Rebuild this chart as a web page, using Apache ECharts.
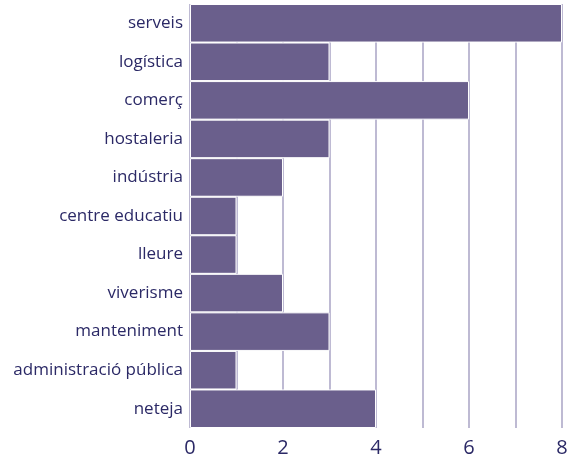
<!DOCTYPE html>
<html>
<head>
<meta charset="utf-8">
<script src="https://cdn.jsdelivr.net/npm/echarts@6/dist/echarts.min.js"></script>
<style>
  html, body { margin: 0; padding: 0; background: #fff; }
  #chart { width: 576px; height: 466px; }
</style>
</head>
<body>
<div id="chart"></div>
<script>
const categories = ['serveis', 'logística', 'comerç', 'hostaleria', 'indústria', 'centre educatiu', 'lleure', 'viverisme', 'manteniment', 'administració pública', 'neteja']
const values = [8, 3, 6, 3, 2, 1, 1, 2, 3, 1, 4]

const chart = echarts.init(document.getElementById('chart'))

const option = {
  animation: false,
  grid: { left: 190, right: 14, top: 4, bottom: 38, containLabel: false },
  xAxis: {
    type: 'value',
    min: 0,
    max: 8,
    interval: 1,
    axisLine: { show: false },
    axisTick: { show: false },
    axisLabel: {
      color: '#2b2966',
      fontSize: 20,
      fontFamily: 'Open Sans',
      margin: 10,
      formatter: v => (v % 2 === 0 ? String(v) : '')
    },
    splitLine: { show: true, lineStyle: { color: '#a9a3c4', width: 1.5 } }
  },
  yAxis: {
    type: 'category',
    data: categories,
    inverse: true,
    axisLine: { show: false },
    axisTick: { show: false },
    axisLabel: {
      color: '#2b2966',
      fontSize: 17,
      fontFamily: 'Open Sans',
      margin: 7
    }
  },
  series: [
    {
      type: 'bar',
      data: values,
      barCategoryGap: '0%',
      itemStyle: {
        color: '#6a5f8c',
        borderColor: '#ffffff',
        borderWidth: 1
      }
    }
  ]
}

chart.setOption(option)
</script>
</body>
</html>
